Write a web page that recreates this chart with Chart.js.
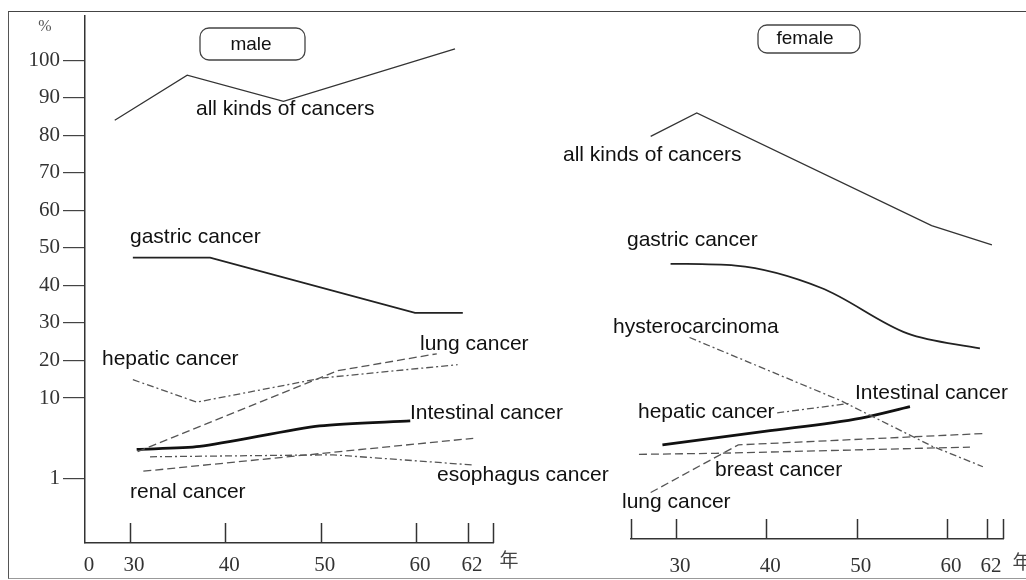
<!DOCTYPE html>
<html>
<head>
<meta charset="utf-8">
<script src="https://cdn.jsdelivr.net/npm/chart.js@4"></script>
<style>
body { margin: 0; background: #fff; }
#wrap { position: relative; width: 1026px; height: 580px; overflow: hidden; background: #fff; }
#frame { position: absolute; left: 8px; top: 11px; width: 1040px; height: 566px;
  border-left: 1.5px solid #555; border-top: 1.5px solid #444; border-bottom: 1px solid #999; }
.panel { position: absolute; top: 0; height: 580px; }
</style>
</head>
<body>
<div id="wrap">
  <div id="frame"></div>
  <div class="panel" style="left:0;width:640px"><canvas id="maleChart"></canvas></div>
  <div class="panel" style="left:520px;width:506px"><canvas id="femaleChart"></canvas></div>
</div>
<script>
const Y_TICKS = [1, 10, 20, 30, 40, 50, 60, 70, 80, 90, 100];
const X_TICKS = [30, 40, 50, 60, 62];

// male: year (Showa) and rate %
const maleAllYears = [28.4, 36.0, 46.1, 61.5];
const maleAllPct = [84, 96, 89, 103];
const maleGastricYears = [30.3, 38.4, 59.9, 61.8];
const maleGastricPct = [47.4, 47.4, 32.7, 32.7];
const maleLungYears = [30.8, 51.8, 60.8];
const maleLungPct = [2.15, 17.3, 21.8];
const maleHepaticYears = [30.3, 37.0, 50.3, 61.6];
const maleHepaticPct = [14.9, 8.9, 15.4, 18.9];
const maleIntestinalYears = [30.7, 37.3, 49.9, 59.4];
const maleIntestinalPct = [2.3, 2.5, 4.5, 5.2];
const maleEsophagusYears = [32.1, 51.3, 62.2];
const maleEsophagusPct = [1.86, 1.97, 1.47];
const maleRenalYears = [31.4, 62.2];
const maleRenalPct = [1.23, 3.16];

// female
const femaleAllYears = [27.2, 32.3, 58.3, 62.25];
const femaleAllPct = [77.9, 84.1, 54.3, 49.2];
const femaleGastricYears = [29.4, 36.6, 46.1, 55.6, 61.65];
const femaleGastricPct = [44.2, 43.7, 37.8, 25.8, 21.8];
const femaleHysteroYears = [31.5, 48.2, 58.3, 61.8];
const femaleHysteroPct = [24.7, 8.1, 2.22, 1.23];
const femaleIntestinalYears = [28.5, 39.8, 50.5, 55.9];
const femaleIntestinalPct = [2.29, 3.36, 4.92, 6.8];
const femaleHepaticYears = [41.2, 49.2];
const femaleHepaticPct = [5.7, 7.45];
const femaleLungYears = [27.2, 36.9, 61.8];
const femaleLungPct = [0.59, 2.29, 3.16];
const femaleBreastYears = [25.9, 34.4, 61.15];
const femaleBreastPct = [1.75, 1.8, 2.15];

const SERIF = '"Liberation Serif", "DejaVu Serif", serif';
const SANS = '"Liberation Sans", Arial, sans-serif';
const LABEL_FONT = '21px ' + SANS;

// y axis: 1..10 is one log step, 10..100 is linear
const LOG_SPAN = 2.14;
function yPos(v) { return v >= 10 ? LOG_SPAN + (v - 10) / 10 : LOG_SPAN * Math.log10(v); }
// x axis: the 60-62 step is drawn wider
function xPos(yr, stretch) { return yr <= 60 ? yr : 60 + (yr - 60) * stretch; }

const SOLID = { borderColor: '#333', borderWidth: 1.3 };
const MEDIUM = { borderColor: '#222', borderWidth: 1.8 };
const THICK = { borderColor: '#111', borderWidth: 2.8 };
const DASH = { borderColor: '#555', borderWidth: 1.3, borderDash: [8, 4] };
const DASHDOT = { borderColor: '#555', borderWidth: 1.3, borderDash: [7, 3, 2, 3] };

function series(years, pct, stretch, style, extra) {
	return Object.assign({
		data: years.map((yr, i) => ({ x: xPos(yr, stretch), y: yPos(pct[i]) })),
		pointRadius: 0,
		fill: false,
		tension: 0,
	}, style, extra || {});
}

const upTicks = {
	id: 'upTicks',
	afterDraw: (chart, args, opts) => {
		const { ctx, chartArea, scales: { x } } = chart;
		ctx.save();
		ctx.strokeStyle = '#333';
		ctx.lineWidth = 1.5;
		x.ticks.forEach((t, i) => {
			if ((opts.skip || []).includes(i)) return;
			const px = Math.round(x.getPixelForValue(t.value)) + 0.5;
			ctx.beginPath();
			ctx.moveTo(px, chartArea.bottom);
			ctx.lineTo(px, chartArea.bottom - 20);
			ctx.stroke();
		});
		ctx.restore();
	}
};

const notes = {
	id: 'notes',
	afterDatasetsDraw: (chart, args, opts) => {
		const ctx = chart.ctx;
		ctx.save();
		(opts.boxes || []).forEach(b => {
			ctx.beginPath();
			ctx.roundRect(b.x, b.y, b.w, b.h, 9);
			ctx.strokeStyle = '#444';
			ctx.lineWidth = 1.3;
			ctx.stroke();
		});
		(opts.items || []).forEach(n => {
			ctx.font = n.font || LABEL_FONT;
			ctx.fillStyle = n.color || '#111';
			ctx.textAlign = n.align || 'left';
			ctx.textBaseline = 'middle';
			ctx.fillText(n.text, n.x, n.y);
		});
		ctx.restore();
	}
};

function panelOptions(p) {
	return {
		responsive: true,
		maintainAspectRatio: false,
		animation: false,
		events: [],
		layout: { padding: p.padding },
		plugins: {
			legend: { display: false },
			tooltip: { enabled: false },
			upTicks: { skip: p.skip },
			notes: { boxes: p.boxes, items: p.items },
		},
		scales: {
			x: {
				type: 'linear',
				min: p.xMin,
				max: p.xMax,
				afterBuildTicks: s => { s.ticks = p.xTickVals.map(v => ({ value: v })); },
				afterFit: s => { s.height = p.xHeight; },
				grid: { display: false },
				border: { color: '#333', width: 1.5 },
				ticks: {
					autoSkip: false,
					maxRotation: 0,
					padding: p.xPad,
					labelOffset: 4,
					color: '#333',
					font: { family: SERIF, size: 21 },
					callback: (v, i) => p.xTickLabels[i],
				},
			},
			y: {
				type: 'linear',
				display: p.showY,
				min: -1.719,
				max: 12.325,
				afterBuildTicks: s => { s.ticks = Y_TICKS.map(v => ({ value: yPos(v) })); },
				afterFit: s => { s.width = p.showY ? 85 : 0; },
				grid: { drawOnChartArea: false, drawTicks: true, tickLength: 22, color: '#444', lineWidth: 1.2 },
				border: { color: '#333', width: 1.5 },
				ticks: {
					padding: 3,
					color: '#333',
					font: { family: SERIF, size: 21 },
					callback: (v, i) => String(Y_TICKS[i]),
				},
			},
		},
	};
}

const MALE_STRETCH = 2.73;
const FEMALE_STRETCH = 2.21;

const maleData = {
	datasets: [
		series(maleAllYears, maleAllPct, MALE_STRETCH, SOLID),
		series(maleGastricYears, maleGastricPct, MALE_STRETCH, MEDIUM),
		series(maleLungYears, maleLungPct, MALE_STRETCH, DASH),
		series(maleHepaticYears, maleHepaticPct, MALE_STRETCH, DASHDOT),
		series(maleIntestinalYears, maleIntestinalPct, MALE_STRETCH, THICK, { tension: 0.25 }),
		series(maleEsophagusYears, maleEsophagusPct, MALE_STRETCH, DASHDOT),
		series(maleRenalYears, maleRenalPct, MALE_STRETCH, DASH),
	]
};

const femaleData = {
	datasets: [
		series(femaleAllYears, femaleAllPct, FEMALE_STRETCH, SOLID),
		series(femaleGastricYears, femaleGastricPct, FEMALE_STRETCH, MEDIUM, { cubicInterpolationMode: 'monotone' }),
		series(femaleHysteroYears, femaleHysteroPct, FEMALE_STRETCH, DASHDOT),
		series(femaleIntestinalYears, femaleIntestinalPct, FEMALE_STRETCH, THICK, { cubicInterpolationMode: 'monotone' }),
		series(femaleHepaticYears, femaleHepaticPct, FEMALE_STRETCH, DASHDOT),
		series(femaleLungYears, femaleLungPct, FEMALE_STRETCH, DASH),
		series(femaleBreastYears, femaleBreastPct, FEMALE_STRETCH, DASH),
	]
};

const maleMin = 25.28, maleMax = 68.08;
const femaleMin = 25.02, femaleMax = 66.2;

new Chart(document.getElementById('maleChart'), {
	type: 'line',
	data: maleData,
	options: panelOptions({
		padding: { left: 0, right: 147, top: 12, bottom: 0 },
		showY: true,
		xMin: maleMin,
		xMax: maleMax,
		xHeight: 37,
		xPad: 2,
		xTickVals: [maleMin].concat(X_TICKS.map(v => xPos(v, MALE_STRETCH)), [maleMax]),
		xTickLabels: ['0'].concat(X_TICKS.map(String), ['']),
		skip: [0],
		boxes: [{ x: 200, y: 28, w: 105, h: 32 }],
		items: [
			{ text: 'male', x: 251, y: 45, align: 'center', font: '19px ' + SANS },
			{ text: '%', x: 45, y: 27, align: 'center', font: '16px ' + SERIF, color: '#555' },
			{ text: '年', x: 509, y: 560, align: 'center', font: '19px "Noto Sans CJK SC"', color: '#444' },
			{ text: 'all kinds of cancers', x: 196, y: 109 },
			{ text: 'gastric cancer', x: 130, y: 237 },
			{ text: 'hepatic cancer', x: 102, y: 359 },
			{ text: 'lung cancer', x: 420, y: 344 },
			{ text: 'Intestinal cancer', x: 410, y: 413 },
			{ text: 'esophagus cancer', x: 437, y: 475 },
			{ text: 'renal cancer', x: 130, y: 492 },
		],
	}),
	plugins: [upTicks, notes],
});

new Chart(document.getElementById('femaleChart'), {
	type: 'line',
	data: femaleData,
	options: panelOptions({
		padding: { left: 111, right: 23, top: 8, bottom: 0 },
		showY: false,
		xMin: femaleMin,
		xMax: femaleMax,
		xHeight: 41,
		xPad: 7,
		xTickVals: [femaleMin].concat(X_TICKS.map(v => xPos(v, FEMALE_STRETCH)), [femaleMax]),
		xTickLabels: [''].concat(X_TICKS.map(String), ['']),
		skip: [],
		boxes: [{ x: 238, y: 25, w: 102, h: 28 }],
		items: [
			{ text: 'female', x: 285, y: 39, align: 'center', font: '19px ' + SANS },
			{ text: '年', x: 502, y: 562, align: 'center', font: '19px "Noto Sans CJK SC"', color: '#444' },
			{ text: 'all kinds of cancers', x: 43, y: 155 },
			{ text: 'gastric cancer', x: 107, y: 240 },
			{ text: 'hysterocarcinoma', x: 93, y: 327 },
			{ text: 'Intestinal cancer', x: 335, y: 393 },
			{ text: 'hepatic cancer', x: 118, y: 412 },
			{ text: 'breast cancer', x: 195, y: 470 },
			{ text: 'lung cancer', x: 102, y: 502 },
		],
	}),
	plugins: [upTicks, notes],
});
</script>
</body>
</html>
